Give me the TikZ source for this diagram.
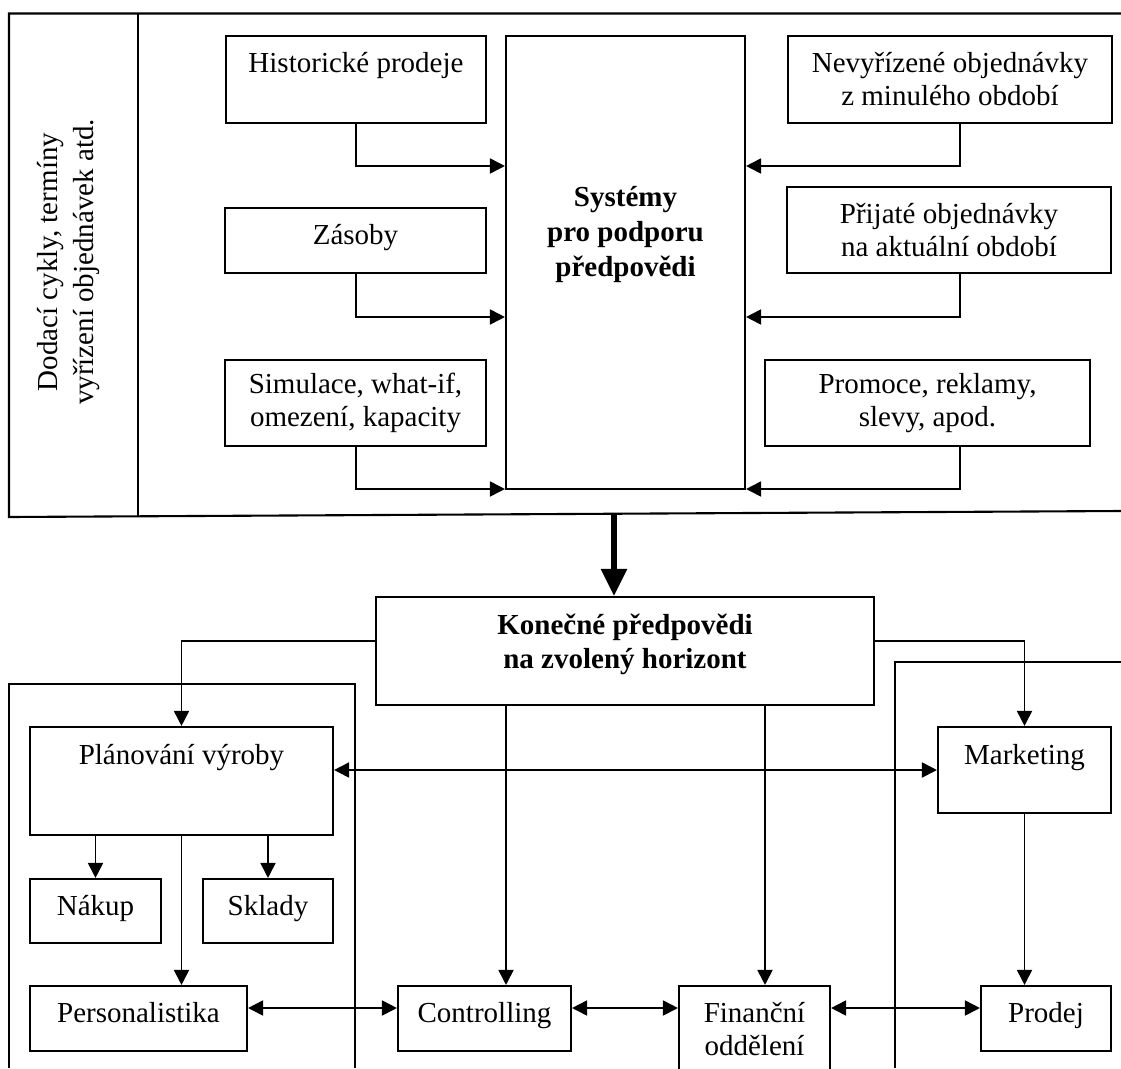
\documentclass[tikz,border=0pt]{standalone}
\usepackage{fontspec}
\setmainfont{Liberation Serif}
\usetikzlibrary{arrows.meta}
\tikzset{
  box/.style={draw, line width=2.1pt, inner sep=0pt, align=center, font=\fontsize{29}{33}\selectfont},
  one/.style={text height=19pt, text depth=11pt},
  lbl/.style={inner sep=0pt, font=\fontsize{29}{33}\selectfont},
  blbl/.style={inner sep=0pt, font=\fontsize{29}{33}\selectfont\bfseries},
  frameline/.style={line width=2.1pt},
  arr/.style={line width=1.8pt, -{Triangle[length=15pt,width=15pt]}},
  darr/.style={line width=1.8pt, {Triangle[length=15pt,width=15pt]}-{Triangle[length=15pt,width=15pt]}},
  bigarr/.style={line width=5.5pt, -{Triangle[length=27pt,width=25pt]}},
}
\begin{document}
\begin{tikzpicture}[x=1pt,y=-1pt]
\useasboundingbox (0,0) rectangle (1121,1068);
\clip (0,0) rectangle (1121,1068);

% ---------- upper frame ----------
\draw[frameline] (1121,13.5) -- (9,13.5) -- (9,517) -- (1121,511);
\draw[frameline] (138,13.5) -- (138,516.7);
\node[lbl, rotate=90, align=center, font=\fontsize{29}{36}\selectfont] (side) at (69,262)
  {Dodací cykly, termíny\\vyřízení objednávek atd.};

% ---------- upper boxes ----------
\node[box, minimum width=260pt, minimum height=87pt] (hist) at (356,79.5) {};
\node[lbl, anchor=base] (histt) at (356,72) {Historické prodeje};
\node[box, one, minimum width=261pt, minimum height=65pt] (zas) at (355.5,240.5) {Zásoby};
\node[box, minimum width=261pt, minimum height=86pt] (sim) at (355.5,403) {Simulace, what-if,\\omezení, kapacity};

\node[box, minimum width=239pt, minimum height=453pt] (sys) at (625.5,262.5) {};
\node[blbl, anchor=base] (sys1) at (625.5,206) {Systémy};
\node[blbl, anchor=base] (sys2) at (625.5,241) {pro podporu};
\node[blbl, anchor=base] (sys3) at (625.5,276) {předpovědi};

\node[box, minimum width=324pt, minimum height=87pt] (nev) at (950,79.5) {Nevyřízené objednávky\\z minulého období};
\node[box, minimum width=324pt, minimum height=86pt] (prij) at (949,230) {Přijaté objednávky\\na aktuální období};
\node[box, minimum width=325pt, minimum height=86pt] (prom) at (927.5,403) {Promoce, reklamy,\\slevy, apod.};

% ---------- upper connectors ----------
\draw[arr] (hist.south) |- (sys.west |- 0,166);
\draw[arr] (zas.south -| hist.south) |- (sys.west |- 0,317);
\draw[arr] (sim.south -| hist.south) |- (sys.west |- 0,489);
\draw[arr] (nev.south -| 960,0) |- (sys.east |- 0,166);
\draw[arr] (prij.south -| 960,0) |- (sys.east |- 0,317);
\draw[arr] (prom.south -| 960,0) |- (sys.east |- 0,489);

% ---------- final forecast ----------
\node[box, minimum width=498pt, minimum height=108pt] (kon) at (625,651) {};
\node[blbl, anchor=base] (kon1) at (625,634) {Konečné předpovědi};
\node[blbl, anchor=base] (kon2) at (625,668) {na zvolený horizont};
\coordinate (ta) at (614,514);
\draw[bigarr] (ta) -- (ta |- kon.north);

% ---------- lower frames ----------
\draw[frameline] (9,1068) -- (9,684) -- (355,684) -- (355,1068);
\draw[frameline] (1121,662) -- (895,662) -- (895,1068);

% ---------- lower boxes ----------
\node[box, minimum width=303pt, minimum height=108pt] (plan) at (181.5,781) {};
\node[lbl, anchor=base] (plant) at (181.5,764) {Plánování výroby};
\node[box, minimum width=173pt, minimum height=86pt] (mark) at (1024.5,770) {};
\node[lbl, anchor=base] (markt) at (1024.5,764) {Marketing};
\node[box, one, minimum width=131pt, minimum height=64pt] (nak) at (95.5,911) {Nákup};
\node[box, one, minimum width=130pt, minimum height=64pt] (skl) at (268,911) {Sklady};
\node[box, one, minimum width=217pt, minimum height=65pt] (pers) at (138.5,1018.5) {Personalistika};
\node[box, one, minimum width=173pt, minimum height=65pt] (ctrl) at (484.5,1018.5) {Controlling};
\node[box, minimum width=151pt, minimum height=87pt] (fin) at (754.5,1029.5) {Finanční\\oddělení};
\node[box, one, minimum width=130pt, minimum height=65pt] (prod) at (1046,1018.5) {Prodej};

% ---------- lower connectors ----------
\draw[arr] (kon.west |- 0,641) -| (plan.north);
\draw[arr] (kon.east |- 0,641) -| (mark.north);
\draw[darr] (plan.east |- mark.west) -- (mark.west);
\draw[arr] (plan.south -| nak.north) -- (nak.north);
\draw[arr] (plan.south -| skl.north) -- (skl.north);
\draw[arr] (plan.south) -- (plan.south |- pers.north);
\draw[arr] (kon.south -| 506,0) -- (ctrl.north -| 506,0);
\draw[arr] (kon.south -| 765,0) -- (fin.north -| 765,0);
\draw[arr] (mark.south) -- (mark.south |- prod.north);
\draw[darr] (pers.east |- 0,1008) -- (ctrl.west |- 0,1008);
\draw[darr] (ctrl.east |- 0,1008) -- (fin.west |- 0,1008);
\draw[darr] (fin.east |- 0,1008) -- (prod.west |- 0,1008);
\end{tikzpicture}
\end{document}
